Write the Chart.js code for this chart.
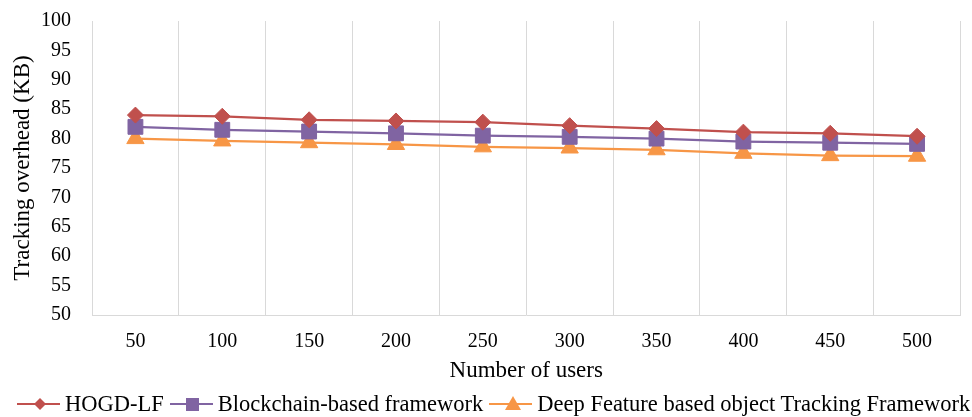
<!DOCTYPE html>
<html>
<head>
<meta charset="utf-8">
<script src="https://cdn.jsdelivr.net/npm/chart.js@4.4.1/dist/chart.umd.min.js"></script>
<style>
  html, body { margin: 0; padding: 0; background: #fff; }
  #wrap { position: relative; width: 972px; height: 417px; overflow: hidden; }
  #legend { position: absolute; left: 17px; top: 391px; display: flex; align-items: center;
    font-family: "Liberation Serif", "Times New Roman", serif; font-size: 22.5px; line-height: 26px; color: #000; white-space: nowrap; }
  #legend span.item { display: inline-flex; align-items: center; margin-right: 6px; }
  #legend svg { margin-right: 5px; display: block; }
</style>
</head>
<body>
<div id="wrap">
  <canvas id="c" width="972" height="417"></canvas>
  <div id="legend"></div>
</div>
<script>
const categories = ["50","100","150","200","250","300","350","400","450","500"];
const hogdLF = [84.0, 83.8, 83.2, 83.0, 82.8, 82.2, 81.7, 81.1, 80.9, 80.4];
const blockchain = [82.0, 81.5, 81.2, 80.9, 80.5, 80.3, 80.0, 79.5, 79.3, 79.1];
const deepFeature = [80.0, 79.6, 79.3, 79.0, 78.6, 78.4, 78.1, 77.5, 77.1, 77.0];
const yTicks = [50, 55, 60, 65, 70, 75, 80, 85, 90, 95, 100];
const seriesNames = ["HOGD-LF", "Blockchain-based framework", "Deep Feature based object Tracking Framework"];
const colors = ["#C0504D", "#8064A2", "#F79646"];
const markers = ["rectRot", "rect", "triangle"];

const FONT = "'Liberation Serif', 'Times New Roman', serif";

const ctx = document.getElementById('c').getContext('2d');
const radii = [8, 10.5, 10];
const datasets = [hogdLF, blockchain, deepFeature].map((d, i) => ({
  label: seriesNames[i],
  data: d,
  borderColor: colors[i],
  backgroundColor: colors[i],
  pointStyle: markers[i],
  pointRadius: radii[i],
  pointHoverRadius: radii[i],
  pointBorderWidth: 1,
  borderWidth: 2.25,
  tension: 0
}));

new Chart(ctx, {
  type: 'line',
  data: { labels: categories, datasets },
  options: {
    responsive: false,
    animation: false,
    events: [],
    layout: { padding: { left: 0, right: 11, top: 21, bottom: 32 } },
    plugins: { legend: { display: false }, tooltip: { enabled: false } },
    scales: {
      x: {
        offset: true,
        grid: { display: true, offset: true, color: '#d9d9d9', drawTicks: false },
        border: { display: true, color: '#d9d9d9' },
        ticks: { color: '#000', font: { family: FONT, size: 20, lineHeight: 1.0 }, padding: 17 },
        title: { display: true, text: 'Number of users', color: '#000', font: { family: FONT, size: 23 }, padding: { top: 0, bottom: 0 } },
        afterFit: s => { s.height = 70; s.paddingLeft = 0; s.paddingRight = 0; }
      },
      y: {
        min: 50, max: 100,
        afterBuildTicks: s => { s.ticks = yTicks.map(v => ({ value: v })); },
        ticks: { autoSkip: false, color: '#000', font: { family: FONT, size: 20, lineHeight: 1.2 }, padding: 21 },
        grid: { display: false, drawTicks: false },
        border: { display: true, color: '#d9d9d9' },
        title: { display: true, text: 'Tracking overhead (KB)', color: '#000', font: { family: FONT, size: 23 }, padding: { top: 9, bottom: 0 } },
        afterFit: s => { s.width = 92; s.paddingTop = 0; s.paddingBottom = 0; }
      }
    }
  }
});

// HTML legend
const legend = document.getElementById('legend');
const shapes = [
  c => `<polygon points="23,4 29,10 23,16 17,10" fill="${c}"/>`,
  c => `<rect x="16" y="4" width="13" height="13" fill="${c}"/>`,
  c => `<polygon points="24,2 32,16 16,16" fill="${c}"/>`
];
seriesNames.forEach((n, i) => {
  const s = document.createElement('span');
  s.className = 'item';
  s.innerHTML = `<svg width="43" height="20"><line x1="0" y1="10" x2="43" y2="10" stroke="${colors[i]}" stroke-width="2"/>${shapes[i](colors[i])}</svg><span>${n}</span>`;
  legend.appendChild(s);
});
</script>
</body>
</html>
